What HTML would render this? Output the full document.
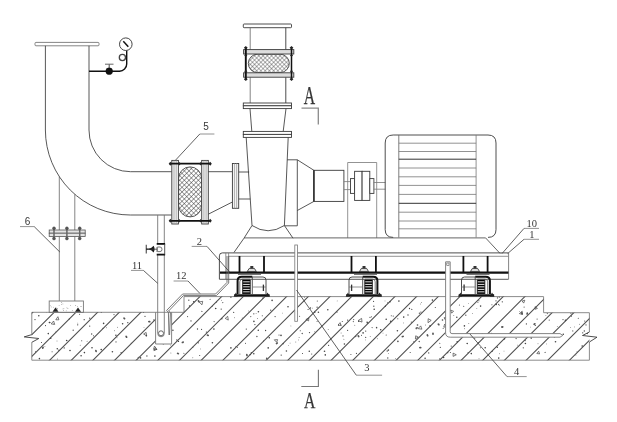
<!DOCTYPE html>
<html><head><meta charset="utf-8"><title>Pump installation diagram</title>
<style>
html,body{margin:0;padding:0;background:#fff;}
body{width:617px;height:422px;overflow:hidden;font-family:"Liberation Sans",sans-serif;}
svg{display:block;filter:grayscale(1);}
</style></head><body>
<svg width="617" height="422" viewBox="0 0 617 422">
<rect width="617" height="422" fill="#fff"/>
<defs>
<pattern id="xh" width="3" height="3" patternUnits="userSpaceOnUse" patternTransform="rotate(45)"><path d="M0 0H3M0 0V3" stroke="#333" stroke-width="0.75" fill="none"/></pattern>
<pattern id="xh2" width="3.3" height="3.3" patternUnits="userSpaceOnUse" patternTransform="rotate(45)"><path d="M0 0H3.3M0 0V3.3" stroke="#333" stroke-width="0.95" fill="none"/></pattern>
<clipPath id="conc"><path d="M31.8 312.3H155.6V344H171.6V312.3H184V296.6H543.6V312.7H589.4V360.2H31.8Z"/></clipPath>
</defs>
<path d="M24.5 336.9 L36.5 336.9" stroke="#3a3a3a" stroke-width="0" fill="none" />
<path d="M31.8 334.6 V312.3 H184 V296.6 H543.6 V312.7 H589.4 V332" stroke="#858585" stroke-width="0.95" fill="none" />
<path d="M589.4 342 V360.2 H31.8 V342.3" stroke="#858585" stroke-width="0.95" fill="none" />
<path d="M31.8 334.6 L24.2 336.9 L38.8 338.5 L31.8 342.3" stroke="#3a3a3a" stroke-width="0.9" fill="none" />
<path d="M589.4 332 L582.5 335.5 L597 337.2 L589.4 342" stroke="#3a3a3a" stroke-width="0.9" fill="none" />
<g clip-path="url(#conc)">
<line x1="-56.75999999999999" y1="380" x2="43.24000000000001" y2="280" stroke="#4c4c4c" stroke-width="1.05" />
<line x1="-35.10000000000002" y1="380" x2="64.89999999999998" y2="280" stroke="#4c4c4c" stroke-width="1.05" />
<line x1="-13.439999999999998" y1="380" x2="86.56" y2="280" stroke="#4c4c4c" stroke-width="1.05" />
<line x1="8.220000000000027" y1="380" x2="108.22000000000003" y2="280" stroke="#4c4c4c" stroke-width="1.05" />
<line x1="29.879999999999995" y1="380" x2="129.88" y2="280" stroke="#4c4c4c" stroke-width="1.05" />
<line x1="51.54000000000002" y1="380" x2="151.54000000000002" y2="280" stroke="#4c4c4c" stroke-width="1.05" />
<line x1="73.19999999999999" y1="380" x2="173.2" y2="280" stroke="#4c4c4c" stroke-width="1.05" />
<line x1="94.86000000000001" y1="380" x2="194.86" y2="280" stroke="#4c4c4c" stroke-width="1.05" />
<line x1="116.51999999999998" y1="380" x2="216.51999999999998" y2="280" stroke="#4c4c4c" stroke-width="1.05" />
<line x1="138.18000000000006" y1="380" x2="238.18000000000006" y2="280" stroke="#4c4c4c" stroke-width="1.05" />
<line x1="159.84000000000003" y1="380" x2="259.84000000000003" y2="280" stroke="#4c4c4c" stroke-width="1.05" />
<line x1="181.5" y1="380" x2="281.5" y2="280" stroke="#4c4c4c" stroke-width="1.05" />
<line x1="203.15999999999997" y1="380" x2="303.15999999999997" y2="280" stroke="#4c4c4c" stroke-width="1.05" />
<line x1="224.81999999999994" y1="380" x2="324.81999999999994" y2="280" stroke="#4c4c4c" stroke-width="1.05" />
<line x1="246.48000000000002" y1="380" x2="346.48" y2="280" stroke="#4c4c4c" stroke-width="1.05" />
<line x1="268.14" y1="380" x2="368.14" y2="280" stroke="#4c4c4c" stroke-width="1.05" />
<line x1="289.79999999999995" y1="380" x2="389.79999999999995" y2="280" stroke="#4c4c4c" stroke-width="1.05" />
<line x1="311.46000000000004" y1="380" x2="411.46000000000004" y2="280" stroke="#4c4c4c" stroke-width="1.05" />
<line x1="333.12" y1="380" x2="433.12" y2="280" stroke="#4c4c4c" stroke-width="1.05" />
<line x1="354.78" y1="380" x2="454.78" y2="280" stroke="#4c4c4c" stroke-width="1.05" />
<line x1="376.44000000000005" y1="380" x2="476.44000000000005" y2="280" stroke="#4c4c4c" stroke-width="1.05" />
<line x1="398.1" y1="380" x2="498.1" y2="280" stroke="#4c4c4c" stroke-width="1.05" />
<line x1="419.76" y1="380" x2="519.76" y2="280" stroke="#4c4c4c" stroke-width="1.05" />
<line x1="441.4200000000001" y1="380" x2="541.4200000000001" y2="280" stroke="#4c4c4c" stroke-width="1.05" />
<line x1="463.0799999999999" y1="380" x2="563.0799999999999" y2="280" stroke="#4c4c4c" stroke-width="1.05" />
<line x1="484.74" y1="380" x2="584.74" y2="280" stroke="#4c4c4c" stroke-width="1.05" />
<line x1="506.4000000000001" y1="380" x2="606.4000000000001" y2="280" stroke="#4c4c4c" stroke-width="1.05" />
<line x1="528.06" y1="380" x2="628.06" y2="280" stroke="#4c4c4c" stroke-width="1.05" />
<line x1="549.72" y1="380" x2="649.72" y2="280" stroke="#4c4c4c" stroke-width="1.05" />
<line x1="571.3800000000001" y1="380" x2="671.3800000000001" y2="280" stroke="#4c4c4c" stroke-width="1.05" />
<line x1="593.04" y1="380" x2="693.04" y2="280" stroke="#4c4c4c" stroke-width="1.05" />
<line x1="614.7" y1="380" x2="714.7" y2="280" stroke="#4c4c4c" stroke-width="1.05" />
<line x1="636.3599999999999" y1="380" x2="736.3599999999999" y2="280" stroke="#4c4c4c" stroke-width="1.05" />
<line x1="658.02" y1="380" x2="758.02" y2="280" stroke="#4c4c4c" stroke-width="1.05" />
<line x1="679.6800000000001" y1="380" x2="779.6800000000001" y2="280" stroke="#4c4c4c" stroke-width="1.05" />
<line x1="701.3399999999999" y1="380" x2="801.3399999999999" y2="280" stroke="#4c4c4c" stroke-width="1.05" />
<line x1="723.0" y1="380" x2="823.0" y2="280" stroke="#4c4c4c" stroke-width="1.05" />
<line x1="744.6600000000001" y1="380" x2="844.6600000000001" y2="280" stroke="#4c4c4c" stroke-width="1.05" />
<line x1="766.3199999999999" y1="380" x2="866.3199999999999" y2="280" stroke="#4c4c4c" stroke-width="1.05" />
<line x1="787.98" y1="380" x2="887.98" y2="280" stroke="#4c4c4c" stroke-width="1.05" />
<line x1="809.6400000000001" y1="380" x2="909.6400000000001" y2="280" stroke="#4c4c4c" stroke-width="1.05" />
<line x1="831.3" y1="380" x2="931.3" y2="280" stroke="#4c4c4c" stroke-width="1.05" />
<circle cx="212.7" cy="306.4" r="0.45" fill="#444"/>
<circle cx="73.2" cy="330.2" r="0.65" fill="#444"/>
<circle cx="356.4" cy="353.4" r="0.55" fill="#444"/>
<circle cx="53.8" cy="323.9" r="0.45" fill="#444"/>
<circle cx="166.6" cy="331.2" r="0.45" fill="#444"/>
<circle cx="491.9" cy="304.7" r="0.55" fill="#444"/>
<circle cx="383.0" cy="333.1" r="0.45" fill="#444"/>
<circle cx="353.3" cy="321.6" r="0.55" fill="#444"/>
<circle cx="58.9" cy="350.2" r="0.65" fill="#444"/>
<circle cx="265.6" cy="330.5" r="0.65" fill="#444"/>
<circle cx="343.9" cy="339.3" r="0.45" fill="#444"/>
<circle cx="355.8" cy="336.6" r="0.65" fill="#444"/>
<circle cx="87.1" cy="341.2" r="0.45" fill="#444"/>
<circle cx="376.6" cy="327.8" r="0.8" fill="#444"/>
<circle cx="464.4" cy="325.9" r="0.8" fill="#444"/>
<circle cx="233.7" cy="312.4" r="0.55" fill="#444"/>
<circle cx="420.9" cy="312.1" r="0.65" fill="#444"/>
<circle cx="324.5" cy="351.3" r="0.8" fill="#444"/>
<circle cx="192.8" cy="357.8" r="0.45" fill="#444"/>
<circle cx="317.1" cy="307.2" r="0.65" fill="#444"/>
<circle cx="117.4" cy="327.3" r="0.45" fill="#444"/>
<circle cx="566.9" cy="301.8" r="0.65" fill="#444"/>
<circle cx="221.8" cy="318.7" r="0.8" fill="#444"/>
<circle cx="354.8" cy="325.3" r="0.45" fill="#444"/>
<circle cx="557.3" cy="326.4" r="0.45" fill="#444"/>
<circle cx="66.7" cy="340.5" r="0.8" fill="#444"/>
<circle cx="191.0" cy="320.9" r="0.65" fill="#444"/>
<circle cx="45.5" cy="325.6" r="0.55" fill="#444"/>
<circle cx="372.1" cy="327.6" r="0.55" fill="#444"/>
<circle cx="459.4" cy="305.0" r="0.55" fill="#444"/>
<circle cx="253.8" cy="353.8" r="0.8" fill="#444"/>
<circle cx="77.7" cy="324.8" r="0.65" fill="#444"/>
<circle cx="523.3" cy="347.8" r="0.65" fill="#444"/>
<circle cx="425.1" cy="358.2" r="0.8" fill="#444"/>
<circle cx="564.5" cy="306.4" r="0.55" fill="#444"/>
<circle cx="117.0" cy="337.8" r="0.45" fill="#444"/>
<circle cx="302.2" cy="333.5" r="0.65" fill="#444"/>
<circle cx="189.5" cy="306.0" r="0.65" fill="#444"/>
<circle cx="371.4" cy="316.8" r="0.55" fill="#444"/>
<circle cx="416.2" cy="329.0" r="0.45" fill="#444"/>
<circle cx="286.4" cy="351.0" r="0.8" fill="#444"/>
<circle cx="253.9" cy="321.4" r="0.8" fill="#444"/>
<circle cx="385.0" cy="300.9" r="0.45" fill="#444"/>
<circle cx="579.5" cy="324.3" r="0.45" fill="#444"/>
<circle cx="221.7" cy="300.3" r="0.45" fill="#444"/>
<circle cx="347.6" cy="330.3" r="0.65" fill="#444"/>
<circle cx="373.6" cy="301.4" r="0.55" fill="#444"/>
<circle cx="373.8" cy="306.2" r="0.65" fill="#444"/>
<circle cx="563.3" cy="334.3" r="0.8" fill="#444"/>
<circle cx="101.2" cy="349.6" r="0.8" fill="#444"/>
<circle cx="299.6" cy="316.3" r="0.55" fill="#444"/>
<circle cx="89.7" cy="318.2" r="0.65" fill="#444"/>
<circle cx="298.6" cy="339.9" r="0.45" fill="#444"/>
<circle cx="146.9" cy="356.0" r="0.65" fill="#444"/>
<circle cx="114.4" cy="330.7" r="0.45" fill="#444"/>
<circle cx="453.8" cy="315.5" r="0.45" fill="#444"/>
<circle cx="419.4" cy="313.2" r="0.65" fill="#444"/>
<circle cx="537.1" cy="319.1" r="0.55" fill="#444"/>
<circle cx="328.6" cy="345.3" r="0.65" fill="#444"/>
<circle cx="386.2" cy="335.0" r="0.55" fill="#444"/>
<circle cx="480.4" cy="347.7" r="0.55" fill="#444"/>
<circle cx="144.0" cy="327.6" r="0.45" fill="#444"/>
<circle cx="582.2" cy="346.0" r="0.8" fill="#444"/>
<circle cx="176.8" cy="339.9" r="0.65" fill="#444"/>
<circle cx="281.2" cy="355.1" r="0.65" fill="#444"/>
<circle cx="563.0" cy="319.6" r="0.55" fill="#444"/>
<circle cx="89.7" cy="326.1" r="0.65" fill="#444"/>
<circle cx="146.4" cy="335.7" r="0.45" fill="#444"/>
<circle cx="299.1" cy="337.5" r="0.45" fill="#444"/>
<circle cx="496.2" cy="304.4" r="0.8" fill="#444"/>
<circle cx="467.2" cy="343.5" r="0.8" fill="#444"/>
<circle cx="526.4" cy="323.9" r="0.65" fill="#444"/>
<circle cx="81.1" cy="355.7" r="0.8" fill="#444"/>
<circle cx="290.1" cy="343.1" r="0.45" fill="#444"/>
<circle cx="435.3" cy="307.5" r="0.55" fill="#444"/>
<circle cx="48.3" cy="333.6" r="0.8" fill="#444"/>
<circle cx="480.6" cy="306.1" r="0.8" fill="#444"/>
<circle cx="397.8" cy="318.7" r="0.55" fill="#444"/>
<circle cx="44.9" cy="346.6" r="0.45" fill="#444"/>
<circle cx="325.3" cy="354.9" r="0.8" fill="#444"/>
<circle cx="580.5" cy="309.1" r="0.55" fill="#444"/>
<circle cx="48.5" cy="310.2" r="0.55" fill="#444"/>
<circle cx="456.8" cy="317.2" r="0.8" fill="#444"/>
<circle cx="496.0" cy="300.8" r="0.65" fill="#444"/>
<circle cx="531.2" cy="338.1" r="0.8" fill="#444"/>
<circle cx="492.1" cy="351.4" r="0.55" fill="#444"/>
<circle cx="328.2" cy="329.5" r="0.45" fill="#444"/>
<circle cx="517.4" cy="345.1" r="0.45" fill="#444"/>
<circle cx="463.7" cy="306.3" r="0.55" fill="#444"/>
<circle cx="295.8" cy="342.0" r="0.45" fill="#444"/>
<circle cx="213.9" cy="329.1" r="0.8" fill="#444"/>
<circle cx="468.3" cy="303.6" r="0.45" fill="#444"/>
<circle cx="170.9" cy="314.2" r="0.45" fill="#444"/>
<circle cx="314.8" cy="331.8" r="0.45" fill="#444"/>
<circle cx="279.0" cy="335.0" r="0.55" fill="#444"/>
<circle cx="417.5" cy="325.0" r="0.8" fill="#444"/>
<circle cx="314.8" cy="312.4" r="0.65" fill="#444"/>
<circle cx="545.1" cy="352.4" r="0.55" fill="#444"/>
<circle cx="499.2" cy="305.5" r="0.45" fill="#444"/>
<circle cx="250.8" cy="316.6" r="0.55" fill="#444"/>
<circle cx="270.7" cy="310.2" r="0.65" fill="#444"/>
<circle cx="468.1" cy="352.6" r="0.55" fill="#444"/>
<circle cx="554.4" cy="336.9" r="0.65" fill="#444"/>
<circle cx="112.4" cy="351.7" r="0.8" fill="#444"/>
<circle cx="154.9" cy="356.1" r="0.8" fill="#444"/>
<circle cx="524.1" cy="307.1" r="0.55" fill="#444"/>
<circle cx="122.6" cy="323.8" r="0.8" fill="#444"/>
<circle cx="221.2" cy="309.1" r="0.65" fill="#444"/>
<circle cx="84.2" cy="319.7" r="0.65" fill="#444"/>
<circle cx="340.5" cy="324.3" r="0.45" fill="#444"/>
<circle cx="246.3" cy="329.1" r="0.65" fill="#444"/>
<circle cx="317.3" cy="301.0" r="0.55" fill="#444"/>
<circle cx="572.3" cy="303.5" r="0.65" fill="#444"/>
<circle cx="183.9" cy="353.2" r="0.55" fill="#444"/>
<circle cx="183.1" cy="305.0" r="0.8" fill="#444"/>
<circle cx="504.5" cy="338.9" r="0.65" fill="#444"/>
<circle cx="258.3" cy="330.3" r="0.8" fill="#444"/>
<circle cx="421.7" cy="302.5" r="0.45" fill="#444"/>
<circle cx="476.8" cy="308.4" r="0.45" fill="#444"/>
<circle cx="182.3" cy="298.0" r="0.45" fill="#444"/>
<circle cx="477.9" cy="302.2" r="0.55" fill="#444"/>
<circle cx="70.0" cy="350.5" r="0.8" fill="#444"/>
<circle cx="39.4" cy="358.6" r="0.8" fill="#444"/>
<circle cx="547.3" cy="313.6" r="0.55" fill="#444"/>
<circle cx="57.0" cy="341.0" r="0.45" fill="#444"/>
<circle cx="570.9" cy="313.2" r="0.55" fill="#444"/>
<circle cx="145.0" cy="316.3" r="0.65" fill="#444"/>
<circle cx="327.8" cy="309.8" r="0.8" fill="#444"/>
<circle cx="310.5" cy="308.0" r="0.65" fill="#444"/>
<circle cx="479.0" cy="358.7" r="0.45" fill="#444"/>
<circle cx="41.5" cy="342.5" r="0.55" fill="#444"/>
<circle cx="318.4" cy="312.2" r="0.8" fill="#444"/>
<circle cx="92.0" cy="347.8" r="0.8" fill="#444"/>
<circle cx="397.4" cy="330.8" r="0.8" fill="#444"/>
<circle cx="571.5" cy="316.1" r="0.55" fill="#444"/>
<circle cx="578.3" cy="318.2" r="0.55" fill="#444"/>
<circle cx="257.6" cy="318.5" r="0.45" fill="#444"/>
<circle cx="497.5" cy="297.9" r="0.65" fill="#444"/>
<circle cx="272.1" cy="300.4" r="0.8" fill="#444"/>
<circle cx="516.1" cy="338.6" r="0.65" fill="#444"/>
<circle cx="365.3" cy="339.9" r="0.45" fill="#444"/>
<circle cx="288.0" cy="306.8" r="0.8" fill="#444"/>
<circle cx="35.0" cy="319.6" r="0.65" fill="#444"/>
<circle cx="572.8" cy="330.9" r="0.55" fill="#444"/>
<circle cx="52.1" cy="351.7" r="0.55" fill="#444"/>
<circle cx="230.9" cy="297.1" r="0.8" fill="#444"/>
<circle cx="79.6" cy="314.3" r="0.55" fill="#444"/>
<circle cx="170.7" cy="345.1" r="0.45" fill="#444"/>
<circle cx="179.6" cy="302.6" r="0.8" fill="#444"/>
<circle cx="358.7" cy="321.4" r="0.65" fill="#444"/>
<circle cx="201.9" cy="311.4" r="0.55" fill="#444"/>
<circle cx="397.9" cy="341.4" r="0.8" fill="#444"/>
<circle cx="457.2" cy="341.7" r="0.8" fill="#444"/>
<circle cx="116.0" cy="341.9" r="0.55" fill="#444"/>
<circle cx="57.3" cy="348.8" r="0.8" fill="#444"/>
<circle cx="440.3" cy="347.4" r="0.55" fill="#444"/>
<circle cx="538.0" cy="343.7" r="0.45" fill="#444"/>
<circle cx="491.7" cy="333.2" r="0.55" fill="#444"/>
<circle cx="80.2" cy="299.6" r="0.65" fill="#444"/>
<circle cx="565.5" cy="320.4" r="0.8" fill="#444"/>
<circle cx="343.0" cy="335.9" r="0.55" fill="#444"/>
<circle cx="304.6" cy="297.2" r="0.45" fill="#444"/>
<circle cx="448.3" cy="328.2" r="0.45" fill="#444"/>
<circle cx="398.9" cy="301.1" r="0.8" fill="#444"/>
<circle cx="173.0" cy="301.6" r="0.65" fill="#444"/>
<circle cx="163.3" cy="343.9" r="0.55" fill="#444"/>
<circle cx="443.6" cy="357.5" r="0.8" fill="#444"/>
<circle cx="502.3" cy="301.8" r="0.65" fill="#444"/>
<circle cx="458.7" cy="335.3" r="0.55" fill="#444"/>
<circle cx="76.0" cy="306.1" r="0.65" fill="#444"/>
<circle cx="394.6" cy="340.0" r="0.55" fill="#444"/>
<circle cx="39.9" cy="300.8" r="0.65" fill="#444"/>
<circle cx="572.7" cy="303.2" r="0.55" fill="#444"/>
<circle cx="408.0" cy="315.0" r="0.65" fill="#444"/>
<circle cx="290.9" cy="325.9" r="0.45" fill="#444"/>
<circle cx="584.3" cy="331.0" r="0.65" fill="#444"/>
<circle cx="575.9" cy="355.0" r="0.45" fill="#444"/>
<circle cx="193.7" cy="301.7" r="0.8" fill="#444"/>
<circle cx="584.7" cy="321.0" r="0.55" fill="#444"/>
<circle cx="74.4" cy="302.6" r="0.65" fill="#444"/>
<circle cx="561.8" cy="305.2" r="0.65" fill="#444"/>
<circle cx="525.2" cy="340.6" r="0.55" fill="#444"/>
<circle cx="309.3" cy="351.3" r="0.8" fill="#444"/>
<circle cx="46.8" cy="297.2" r="0.8" fill="#444"/>
<circle cx="411.3" cy="322.1" r="0.55" fill="#444"/>
<circle cx="264.0" cy="320.3" r="0.45" fill="#444"/>
<circle cx="499.3" cy="297.1" r="0.65" fill="#444"/>
<circle cx="498.7" cy="304.4" r="0.55" fill="#444"/>
<circle cx="428.7" cy="352.9" r="0.65" fill="#444"/>
<circle cx="173.5" cy="301.0" r="0.8" fill="#444"/>
<circle cx="587.3" cy="333.5" r="0.65" fill="#444"/>
<circle cx="546.6" cy="343.9" r="0.45" fill="#444"/>
<circle cx="188.8" cy="300.2" r="0.65" fill="#444"/>
<circle cx="385.4" cy="306.2" r="0.65" fill="#444"/>
<circle cx="275.1" cy="316.6" r="0.65" fill="#444"/>
<circle cx="468.8" cy="323.5" r="0.45" fill="#444"/>
<circle cx="483.6" cy="336.1" r="0.55" fill="#444"/>
<circle cx="432.4" cy="300.1" r="0.8" fill="#444"/>
<circle cx="283.2" cy="343.7" r="0.65" fill="#444"/>
<circle cx="302.5" cy="353.5" r="0.55" fill="#444"/>
<circle cx="127.8" cy="322.7" r="0.65" fill="#444"/>
<circle cx="198.3" cy="342.8" r="0.65" fill="#444"/>
<circle cx="258.4" cy="311.8" r="0.8" fill="#444"/>
<circle cx="342.3" cy="321.5" r="0.55" fill="#444"/>
<circle cx="390.0" cy="301.7" r="0.8" fill="#444"/>
<circle cx="338.5" cy="325.1" r="0.65" fill="#444"/>
<circle cx="586.0" cy="324.9" r="0.55" fill="#444"/>
<circle cx="337.0" cy="312.1" r="0.55" fill="#444"/>
<circle cx="222.8" cy="302.6" r="0.55" fill="#444"/>
<circle cx="237.4" cy="347.2" r="0.55" fill="#444"/>
<circle cx="525.4" cy="343.5" r="0.8" fill="#444"/>
<circle cx="245.5" cy="343.2" r="0.55" fill="#444"/>
<circle cx="242.2" cy="318.0" r="0.45" fill="#444"/>
<circle cx="309.5" cy="332.6" r="0.65" fill="#444"/>
<circle cx="102.9" cy="328.2" r="0.55" fill="#444"/>
<circle cx="84.4" cy="352.6" r="0.8" fill="#444"/>
<circle cx="254.9" cy="324.6" r="0.65" fill="#444"/>
<circle cx="504.0" cy="351.1" r="0.45" fill="#444"/>
<circle cx="103.6" cy="323.4" r="0.8" fill="#444"/>
<circle cx="570.4" cy="327.4" r="0.45" fill="#444"/>
<circle cx="250.3" cy="354.5" r="0.8" fill="#444"/>
<circle cx="572.6" cy="312.4" r="0.45" fill="#444"/>
<circle cx="157.2" cy="306.4" r="0.45" fill="#444"/>
<circle cx="555.5" cy="341.7" r="0.8" fill="#444"/>
<circle cx="80.2" cy="345.2" r="0.45" fill="#444"/>
<circle cx="467.2" cy="311.4" r="0.45" fill="#444"/>
<circle cx="391.3" cy="315.8" r="0.55" fill="#444"/>
<circle cx="380.7" cy="329.8" r="0.8" fill="#444"/>
<circle cx="420.7" cy="304.0" r="0.45" fill="#444"/>
<circle cx="199.7" cy="355.5" r="0.55" fill="#444"/>
<circle cx="248.4" cy="310.9" r="0.45" fill="#444"/>
<circle cx="38.8" cy="315.7" r="0.8" fill="#444"/>
<circle cx="187.6" cy="316.6" r="0.55" fill="#444"/>
<circle cx="296.8" cy="311.6" r="0.55" fill="#444"/>
<circle cx="49.3" cy="322.5" r="0.65" fill="#444"/>
<circle cx="63.7" cy="309.0" r="0.8" fill="#444"/>
<circle cx="78.0" cy="311.1" r="0.8" fill="#444"/>
<circle cx="546.5" cy="311.1" r="0.45" fill="#444"/>
<circle cx="419.2" cy="341.5" r="0.65" fill="#444"/>
<circle cx="411.8" cy="309.3" r="0.65" fill="#444"/>
<circle cx="443.2" cy="328.3" r="0.55" fill="#444"/>
<circle cx="308.1" cy="309.4" r="0.55" fill="#444"/>
<circle cx="161.1" cy="310.7" r="0.65" fill="#444"/>
<circle cx="93.5" cy="335.7" r="0.55" fill="#444"/>
<circle cx="530.5" cy="327.1" r="0.45" fill="#444"/>
<circle cx="559.6" cy="306.1" r="0.8" fill="#444"/>
<circle cx="63.2" cy="298.5" r="0.55" fill="#444"/>
<circle cx="263.5" cy="341.0" r="0.55" fill="#444"/>
<circle cx="251.3" cy="352.7" r="0.65" fill="#444"/>
<circle cx="439.7" cy="358.8" r="0.55" fill="#444"/>
<circle cx="215.7" cy="308.5" r="0.8" fill="#444"/>
<circle cx="50.7" cy="338.2" r="0.8" fill="#444"/>
<circle cx="498.7" cy="358.1" r="0.8" fill="#444"/>
<circle cx="126.9" cy="297.2" r="0.65" fill="#444"/>
<circle cx="77.8" cy="323.1" r="0.45" fill="#444"/>
<circle cx="344.4" cy="344.0" r="0.8" fill="#444"/>
<circle cx="230.9" cy="347.9" r="0.8" fill="#444"/>
<circle cx="81.7" cy="340.7" r="0.55" fill="#444"/>
<circle cx="239.9" cy="354.0" r="0.55" fill="#444"/>
<circle cx="212.4" cy="342.7" r="0.8" fill="#444"/>
<circle cx="49.8" cy="322.5" r="0.8" fill="#444"/>
<circle cx="55.6" cy="299.2" r="0.45" fill="#444"/>
<circle cx="478.9" cy="300.8" r="0.55" fill="#444"/>
<circle cx="447.7" cy="352.7" r="0.65" fill="#444"/>
<circle cx="234.5" cy="317.8" r="0.45" fill="#444"/>
<circle cx="178.5" cy="341.4" r="0.65" fill="#444"/>
<circle cx="545.9" cy="315.4" r="0.45" fill="#444"/>
<circle cx="46.5" cy="311.5" r="0.8" fill="#444"/>
<circle cx="430.1" cy="325.9" r="0.8" fill="#444"/>
<circle cx="471.3" cy="353.6" r="0.8" fill="#444"/>
<circle cx="106.7" cy="327.8" r="0.45" fill="#444"/>
<circle cx="478.4" cy="342.8" r="0.55" fill="#444"/>
<circle cx="370.0" cy="317.3" r="0.65" fill="#444"/>
<circle cx="288.7" cy="345.6" r="0.45" fill="#444"/>
<circle cx="317.1" cy="321.3" r="0.55" fill="#444"/>
<circle cx="170.3" cy="301.0" r="0.45" fill="#444"/>
<circle cx="300.3" cy="330.8" r="0.55" fill="#444"/>
<circle cx="577.0" cy="351.8" r="0.45" fill="#444"/>
<circle cx="180.0" cy="302.2" r="0.45" fill="#444"/>
<circle cx="266.7" cy="358.3" r="0.8" fill="#444"/>
<circle cx="129.1" cy="305.2" r="0.8" fill="#444"/>
<circle cx="377.3" cy="338.8" r="0.45" fill="#444"/>
<circle cx="465.8" cy="315.2" r="0.65" fill="#444"/>
<circle cx="347.6" cy="320.1" r="0.65" fill="#444"/>
<circle cx="143.6" cy="312.3" r="0.55" fill="#444"/>
<circle cx="163.7" cy="314.4" r="0.55" fill="#444"/>
<circle cx="214.1" cy="321.6" r="0.55" fill="#444"/>
<circle cx="314.6" cy="311.3" r="0.45" fill="#444"/>
<circle cx="395.6" cy="358.4" r="0.45" fill="#444"/>
<circle cx="35.5" cy="351.7" r="0.55" fill="#444"/>
<circle cx="499.5" cy="353.7" r="0.45" fill="#444"/>
<circle cx="519.7" cy="311.4" r="0.45" fill="#444"/>
<circle cx="138.2" cy="357.3" r="0.55" fill="#444"/>
<circle cx="549.2" cy="320.1" r="0.55" fill="#444"/>
<circle cx="282.3" cy="313.1" r="0.45" fill="#444"/>
<circle cx="91.7" cy="334.0" r="0.65" fill="#444"/>
<circle cx="153.8" cy="319.9" r="0.55" fill="#444"/>
<circle cx="57.5" cy="359.0" r="0.45" fill="#444"/>
<circle cx="365.7" cy="337.4" r="0.55" fill="#444"/>
<circle cx="485.2" cy="347.8" r="0.8" fill="#444"/>
<circle cx="409.5" cy="308.5" r="0.65" fill="#444"/>
<circle cx="76.3" cy="299.0" r="0.8" fill="#444"/>
<circle cx="337.2" cy="300.9" r="0.45" fill="#444"/>
<circle cx="474.7" cy="338.2" r="0.55" fill="#444"/>
<circle cx="387.7" cy="302.7" r="0.55" fill="#444"/>
<circle cx="253.8" cy="313.8" r="0.65" fill="#444"/>
<circle cx="403.6" cy="322.9" r="0.45" fill="#444"/>
<circle cx="206.4" cy="332.1" r="0.65" fill="#444"/>
<circle cx="262.8" cy="298.1" r="0.65" fill="#444"/>
<circle cx="390.7" cy="321.2" r="0.8" fill="#444"/>
<circle cx="146.0" cy="297.4" r="0.55" fill="#444"/>
<circle cx="268.2" cy="347.9" r="0.8" fill="#444"/>
<circle cx="353.7" cy="319.6" r="0.55" fill="#444"/>
<circle cx="105.1" cy="300.2" r="0.55" fill="#444"/>
<circle cx="388.6" cy="353.4" r="0.45" fill="#444"/>
<circle cx="350.9" cy="354.5" r="0.55" fill="#444"/>
<circle cx="114.0" cy="314.6" r="0.55" fill="#444"/>
<circle cx="546.7" cy="303.7" r="0.8" fill="#444"/>
<circle cx="451.2" cy="346.1" r="0.55" fill="#444"/>
<circle cx="200.4" cy="348.9" r="0.45" fill="#444"/>
<circle cx="574.4" cy="326.9" r="0.45" fill="#444"/>
<circle cx="370.2" cy="336.5" r="0.45" fill="#444"/>
<circle cx="534.8" cy="335.5" r="0.55" fill="#444"/>
<circle cx="388.4" cy="350.1" r="0.8" fill="#444"/>
<circle cx="374.2" cy="309.2" r="0.8" fill="#444"/>
<circle cx="134.5" cy="310.5" r="0.8" fill="#444"/>
<circle cx="553.9" cy="306.7" r="0.65" fill="#444"/>
<circle cx="101.3" cy="312.3" r="0.55" fill="#444"/>
<circle cx="55.8" cy="331.9" r="0.45" fill="#444"/>
<circle cx="403.7" cy="317.1" r="0.8" fill="#444"/>
<circle cx="365.7" cy="331.1" r="0.65" fill="#444"/>
<circle cx="393.2" cy="316.1" r="0.55" fill="#444"/>
<circle cx="269.3" cy="337.8" r="0.8" fill="#444"/>
<circle cx="312.5" cy="308.1" r="0.45" fill="#444"/>
<circle cx="376.5" cy="327.3" r="0.55" fill="#444"/>
<circle cx="281.0" cy="335.4" r="0.8" fill="#444"/>
<circle cx="497.3" cy="347.3" r="0.8" fill="#444"/>
<circle cx="92.4" cy="305.0" r="0.8" fill="#444"/>
<circle cx="235.8" cy="346.7" r="0.45" fill="#444"/>
<circle cx="55.6" cy="305.1" r="0.65" fill="#444"/>
<circle cx="464.6" cy="328.7" r="0.45" fill="#444"/>
<circle cx="450.4" cy="352.5" r="0.55" fill="#444"/>
<circle cx="47.4" cy="301.1" r="0.45" fill="#444"/>
<circle cx="140.5" cy="357.9" r="0.8" fill="#444"/>
<circle cx="192.8" cy="347.3" r="0.55" fill="#444"/>
<circle cx="413.8" cy="341.7" r="0.55" fill="#444"/>
<circle cx="69.4" cy="318.8" r="0.65" fill="#444"/>
<circle cx="121.1" cy="352.6" r="0.65" fill="#444"/>
<circle cx="535.3" cy="325.3" r="0.65" fill="#444"/>
<circle cx="311.7" cy="354.0" r="0.55" fill="#444"/>
<circle cx="361.5" cy="335.2" r="0.55" fill="#444"/>
<circle cx="210.1" cy="299.3" r="0.55" fill="#444"/>
<circle cx="256.9" cy="336.5" r="0.65" fill="#444"/>
<circle cx="410.2" cy="352.5" r="0.55" fill="#444"/>
<circle cx="472.6" cy="313.4" r="0.45" fill="#444"/>
<circle cx="386.2" cy="319.3" r="0.8" fill="#444"/>
<circle cx="341.1" cy="333.0" r="0.45" fill="#444"/>
<circle cx="172.9" cy="330.2" r="0.8" fill="#444"/>
<circle cx="442.5" cy="320.0" r="0.8" fill="#444"/>
<circle cx="582.7" cy="332.8" r="0.65" fill="#444"/>
<circle cx="216.6" cy="302.0" r="0.55" fill="#444"/>
<circle cx="131.1" cy="343.1" r="0.45" fill="#444"/>
<circle cx="197.5" cy="329.0" r="0.65" fill="#444"/>
<circle cx="387.8" cy="358.0" r="0.65" fill="#444"/>
<circle cx="439.8" cy="343.3" r="0.55" fill="#444"/>
<circle cx="115.9" cy="335.2" r="0.8" fill="#444"/>
<circle cx="264.8" cy="319.6" r="0.45" fill="#444"/>
<circle cx="106.3" cy="311.1" r="0.45" fill="#444"/>
<circle cx="45.4" cy="297.2" r="0.65" fill="#444"/>
<circle cx="201.6" cy="329.4" r="0.55" fill="#444"/>
<circle cx="262.3" cy="315.7" r="0.55" fill="#444"/>
<circle cx="146.3" cy="335.7" r="0.8" fill="#444"/>
<circle cx="121.0" cy="297.9" r="0.55" fill="#444"/>
<circle cx="425.6" cy="325.0" r="0.45" fill="#444"/>
<circle cx="387.2" cy="351.0" r="0.65" fill="#444"/>
<circle cx="256.1" cy="313.4" r="0.45" fill="#444"/>
<circle cx="64.2" cy="347.9" r="0.65" fill="#444"/>
<circle cx="363.1" cy="332.9" r="0.8" fill="#444"/>
<circle cx="170.9" cy="353.0" r="0.45" fill="#444"/>
<circle cx="67.1" cy="298.6" r="0.55" fill="#444"/>
<polygon points="166.8,301.8 167.2,304.2 165.3,303.8" fill="none" stroke="#444" stroke-width="0.7"/>
<polygon points="143.6,334.0 146.1,332.4 146.7,335.8" fill="none" stroke="#444" stroke-width="0.7"/>
<polygon points="202.7,301.3 202.0,304.8 199.1,302.0" fill="none" stroke="#444" stroke-width="0.7"/>
<polygon points="444.6,324.2 446.9,326.9 443.8,327.1" fill="none" stroke="#444" stroke-width="0.7"/>
<polygon points="57.9,316.7 58.9,319.8 55.8,319.8" fill="none" stroke="#444" stroke-width="0.7"/>
<polygon points="340.1,322.6 341.3,325.7 338.1,325.0" fill="none" stroke="#444" stroke-width="0.7"/>
<polygon points="156.8,349.4 153.9,350.7 155.0,347.7" fill="none" stroke="#444" stroke-width="0.7"/>
<polygon points="446.6,317.1 445.5,320.0 444.0,317.8" fill="none" stroke="#444" stroke-width="0.7"/>
<polygon points="418.2,337.0 415.4,339.0 415.7,335.8" fill="none" stroke="#444" stroke-width="0.7"/>
<polygon points="274.3,339.8 277.6,339.6 276.7,342.3" fill="none" stroke="#444" stroke-width="0.7"/>
<polygon points="537.4,308.4 535.2,309.3 535.1,306.6" fill="none" stroke="#444" stroke-width="0.7"/>
<polygon points="51.4,300.5 53.7,302.7 51.1,303.9" fill="none" stroke="#444" stroke-width="0.7"/>
<polygon points="361.6,318.4 362.0,322.1 358.1,320.6" fill="none" stroke="#444" stroke-width="0.7"/>
<polygon points="539.6,353.9 536.8,353.5 538.7,351.2" fill="none" stroke="#444" stroke-width="0.7"/>
<polygon points="482.4,333.7 483.4,337.2 479.9,335.6" fill="none" stroke="#444" stroke-width="0.7"/>
<polygon points="451.7,313.1 450.5,310.0 453.6,311.3" fill="none" stroke="#444" stroke-width="0.7"/>
<polygon points="428.0,322.7 428.2,318.7 431.2,320.4" fill="none" stroke="#444" stroke-width="0.7"/>
<polygon points="51.2,323.9 53.6,321.0 54.7,324.4" fill="none" stroke="#444" stroke-width="0.7"/>
<polygon points="157.0,349.5 153.5,349.3 154.5,346.1" fill="none" stroke="#444" stroke-width="0.7"/>
<polygon points="456.3,354.8 453.1,356.4 453.1,353.1" fill="none" stroke="#444" stroke-width="0.7"/>
<polygon points="308.8,318.0 308.6,320.9 305.9,319.5" fill="none" stroke="#444" stroke-width="0.7"/>
<polygon points="421.9,329.2 418.0,328.6 420.7,325.9" fill="none" stroke="#444" stroke-width="0.7"/>
<polygon points="467.0,336.6 467.9,333.5 469.8,335.4" fill="none" stroke="#444" stroke-width="0.7"/>
<polygon points="523.7,303.1 522.1,301.0 524.8,300.2" fill="none" stroke="#444" stroke-width="0.7"/>
<polygon points="519.4,313.6 522.2,311.2 522.5,314.5" fill="none" stroke="#444" stroke-width="0.7"/>
<polygon points="228.3,320.1 225.2,318.4 227.7,316.3" fill="none" stroke="#444" stroke-width="0.7"/>
<ellipse cx="276.9" cy="343.3" rx="1.3" ry="0.9" fill="#555" transform="rotate(148 276.9 343.3)"/>
<ellipse cx="162.8" cy="318.7" rx="1.3" ry="0.9" fill="#555" transform="rotate(164 162.8 318.7)"/>
<ellipse cx="521.9" cy="313.3" rx="1.3" ry="0.9" fill="#555" transform="rotate(49 521.9 313.3)"/>
<ellipse cx="182.8" cy="342.3" rx="1.3" ry="0.9" fill="#555" transform="rotate(158 182.8 342.3)"/>
<ellipse cx="120.9" cy="308.7" rx="1.3" ry="0.9" fill="#555" transform="rotate(63 120.9 308.7)"/>
<ellipse cx="433.0" cy="333.8" rx="1.3" ry="0.9" fill="#555" transform="rotate(89 433.0 333.8)"/>
<ellipse cx="124.3" cy="318.4" rx="1.3" ry="0.9" fill="#555" transform="rotate(48 124.3 318.4)"/>
<ellipse cx="178.0" cy="353.5" rx="1.3" ry="0.9" fill="#555" transform="rotate(26 178.0 353.5)"/>
<ellipse cx="126.4" cy="336.8" rx="1.3" ry="0.9" fill="#555" transform="rotate(50 126.4 336.8)"/>
<ellipse cx="246.9" cy="355.1" rx="1.3" ry="0.9" fill="#555" transform="rotate(77 246.9 355.1)"/>
<ellipse cx="438.6" cy="324.4" rx="1.3" ry="0.9" fill="#555" transform="rotate(50 438.6 324.4)"/>
<ellipse cx="96.0" cy="351.0" rx="1.3" ry="0.9" fill="#555" transform="rotate(71 96.0 351.0)"/>
<ellipse cx="149.3" cy="321.7" rx="1.3" ry="0.9" fill="#555" transform="rotate(8 149.3 321.7)"/>
<ellipse cx="42.9" cy="347.8" rx="1.3" ry="0.9" fill="#555" transform="rotate(111 42.9 347.8)"/>
<ellipse cx="416.7" cy="328.0" rx="1.3" ry="0.9" fill="#555" transform="rotate(161 416.7 328.0)"/>
<ellipse cx="198.6" cy="301.2" rx="1.3" ry="0.9" fill="#555" transform="rotate(65 198.6 301.2)"/>
<ellipse cx="367.4" cy="322.7" rx="1.3" ry="0.9" fill="#555" transform="rotate(62 367.4 322.7)"/>
<ellipse cx="534.5" cy="324.1" rx="1.3" ry="0.9" fill="#555" transform="rotate(146 534.5 324.1)"/>
<ellipse cx="358.5" cy="336.2" rx="1.3" ry="0.9" fill="#555" transform="rotate(58 358.5 336.2)"/>
<ellipse cx="402.7" cy="336.5" rx="1.3" ry="0.9" fill="#555" transform="rotate(164 402.7 336.5)"/>
<ellipse cx="420.3" cy="347.7" rx="1.3" ry="0.9" fill="#555" transform="rotate(173 420.3 347.7)"/>
<ellipse cx="135.6" cy="307.0" rx="1.3" ry="0.9" fill="#555" transform="rotate(110 135.6 307.0)"/>
<ellipse cx="207.8" cy="335.2" rx="1.3" ry="0.9" fill="#555" transform="rotate(25 207.8 335.2)"/>
<ellipse cx="527.2" cy="313.6" rx="1.3" ry="0.9" fill="#555" transform="rotate(102 527.2 313.6)"/>
<ellipse cx="427.5" cy="335.3" rx="1.3" ry="0.9" fill="#555" transform="rotate(64 427.5 335.3)"/>
<ellipse cx="502.3" cy="327.0" rx="1.3" ry="0.9" fill="#555" transform="rotate(5 502.3 327.0)"/>
</g>
<path d="M155.6 312.3 V344 H171.6 V312.3" stroke="#777" stroke-width="0.9" fill="none" />
<rect x="49.2" y="301" width="34.2" height="11.4" rx="0" stroke="#777" stroke-width="0.9" fill="none"/>
<circle cx="70.5" cy="305.7" r="0.4" fill="#666"/>
<circle cx="72.3" cy="310.4" r="0.4" fill="#666"/>
<circle cx="56.0" cy="307.9" r="0.4" fill="#666"/>
<circle cx="75.7" cy="305.5" r="0.4" fill="#666"/>
<circle cx="66.2" cy="310.8" r="0.4" fill="#666"/>
<circle cx="51.3" cy="306.9" r="0.4" fill="#666"/>
<circle cx="55.3" cy="309.0" r="0.4" fill="#666"/>
<circle cx="81.0" cy="306.7" r="0.4" fill="#666"/>
<circle cx="53.3" cy="307.2" r="0.4" fill="#666"/>
<circle cx="67.9" cy="308.5" r="0.4" fill="#666"/>
<circle cx="66.9" cy="307.8" r="0.4" fill="#666"/>
<circle cx="77.4" cy="306.7" r="0.4" fill="#666"/>
<circle cx="63.5" cy="310.5" r="0.4" fill="#666"/>
<circle cx="56.9" cy="308.2" r="0.4" fill="#666"/>
<circle cx="63.0" cy="308.9" r="0.4" fill="#666"/>
<circle cx="54.0" cy="310.9" r="0.4" fill="#666"/>
<circle cx="61.7" cy="302.5" r="0.4" fill="#666"/>
<circle cx="59.1" cy="305.6" r="0.4" fill="#666"/>
<circle cx="50.4" cy="305.8" r="0.4" fill="#666"/>
<circle cx="63.9" cy="308.3" r="0.4" fill="#666"/>
<circle cx="61.6" cy="304.4" r="0.4" fill="#666"/>
<circle cx="57.4" cy="308.7" r="0.4" fill="#666"/>
<circle cx="81.0" cy="306.7" r="0.4" fill="#666"/>
<circle cx="57.2" cy="309.2" r="0.4" fill="#666"/>
<circle cx="62.9" cy="303.9" r="0.4" fill="#666"/>
<polygon points="52.5,311.8 55.5,307.5 58.5,311.8" fill="#222"/>
<polygon points="75,311.8 78,307.5 81,311.8" fill="#222"/>
<line x1="59.3" y1="236.5" x2="59.3" y2="301" stroke="#777" stroke-width="0.9" />
<line x1="74.8" y1="236.5" x2="74.8" y2="301" stroke="#777" stroke-width="0.9" />
<line x1="59.3" y1="176.8" x2="59.3" y2="230" stroke="#777" stroke-width="0.9" />
<line x1="74.8" y1="194.4" x2="74.8" y2="230" stroke="#777" stroke-width="0.9" />
<rect x="49.2" y="230" width="36" height="3.2" rx="0" stroke="#555" stroke-width="0.8" fill="#e4e4e4"/>
<rect x="49.2" y="233.2" width="36" height="3.2" rx="0" stroke="#555" stroke-width="0.8" fill="#e4e4e4"/>
<line x1="54" y1="227.6" x2="54" y2="239.2" stroke="#666" stroke-width="1.5" />
<circle cx="54" cy="228.3" r="1.5" stroke="#444" stroke-width="0.4" fill="#555"/>
<circle cx="54" cy="238.5" r="1.5" stroke="#444" stroke-width="0.4" fill="#555"/>
<line x1="66.9" y1="227.6" x2="66.9" y2="239.2" stroke="#666" stroke-width="1.5" />
<circle cx="66.9" cy="228.3" r="1.5" stroke="#444" stroke-width="0.4" fill="#555"/>
<circle cx="66.9" cy="238.5" r="1.5" stroke="#444" stroke-width="0.4" fill="#555"/>
<line x1="79.7" y1="227.6" x2="79.7" y2="239.2" stroke="#666" stroke-width="1.5" />
<circle cx="79.7" cy="228.3" r="1.5" stroke="#444" stroke-width="0.4" fill="#555"/>
<circle cx="79.7" cy="238.5" r="1.5" stroke="#444" stroke-width="0.4" fill="#555"/>
<rect x="35" y="42.4" width="64" height="3.4" rx="1" stroke="#777" stroke-width="0.9" fill="none"/>
<path d="M45.4 45.8 V130 A85 85 0 0 0 130.4 215 H171.8" stroke="#3a3a3a" stroke-width="0.85" fill="none" />
<path d="M89 45.8 V130 A41.5 41.5 0 0 0 130.5 171.7 H171.8" stroke="#3a3a3a" stroke-width="0.85" fill="none" />
<path d="M89 71.2 H119.5 A7.2 7.2 0 0 0 126.7 64 V50.6" stroke="#111" stroke-width="1.4" fill="none" />
<circle cx="109.2" cy="71.2" r="3.4" stroke="#111" stroke-width="0.5" fill="#111"/>
<line x1="109.2" y1="68" x2="109.2" y2="64.2" stroke="#444" stroke-width="1.0" />
<line x1="105" y1="64.2" x2="113.5" y2="64.2" stroke="#666" stroke-width="1.0" />
<circle cx="125.8" cy="44.2" r="6.3" stroke="#444" stroke-width="1.0" fill="#fff"/>
<line x1="123.3" y1="41.2" x2="128.3" y2="46.8" stroke="#111" stroke-width="1.5" />
<circle cx="122.4" cy="57.5" r="3.1" stroke="#444" stroke-width="1.3" fill="#fff"/>
<rect x="178.6" y="166.9" width="23" height="50" rx="11.5" fill="url(#xh2)" stroke="#444" stroke-width="0.9"/>
<rect x="171.8" y="160.4" width="6.6" height="63.6" rx="0" stroke="#3a3a3a" stroke-width="0.9" fill="#f2f2f2"/>
<line x1="174" y1="160.4" x2="174" y2="224" stroke="#999" stroke-width="0.7" />
<line x1="176.2" y1="160.4" x2="176.2" y2="224" stroke="#999" stroke-width="0.7" />
<rect x="201.7" y="160.4" width="6.6" height="63.6" rx="0" stroke="#3a3a3a" stroke-width="0.9" fill="#f2f2f2"/>
<line x1="203.9" y1="160.4" x2="203.9" y2="224" stroke="#999" stroke-width="0.7" />
<line x1="206.1" y1="160.4" x2="206.1" y2="224" stroke="#999" stroke-width="0.7" />
<line x1="169.8" y1="163.7" x2="210.6" y2="163.7" stroke="#111" stroke-width="1.7" />
<line x1="169.8" y1="220.8" x2="210.6" y2="220.8" stroke="#111" stroke-width="1.7" />
<polygon points="168.70000000000002,163.7 170.3,161.7 171.9,163.7 170.3,165.7" fill="#222"/>
<polygon points="208.6,163.7 210.2,161.7 211.79999999999998,163.7 210.2,165.7" fill="#222"/>
<polygon points="178.3,163.7 179.5,162.0 180.7,163.7 179.5,165.39999999999998" fill="#222"/>
<polygon points="199.3,163.7 200.5,162.0 201.7,163.7 200.5,165.39999999999998" fill="#222"/>
<polygon points="168.70000000000002,220.8 170.3,218.8 171.9,220.8 170.3,222.8" fill="#222"/>
<polygon points="208.6,220.8 210.2,218.8 211.79999999999998,220.8 210.2,222.8" fill="#222"/>
<polygon points="178.3,220.8 179.5,219.10000000000002 180.7,220.8 179.5,222.5" fill="#222"/>
<polygon points="199.3,220.8 200.5,219.10000000000002 201.7,220.8 200.5,222.5" fill="#222"/>
<line x1="208.3" y1="171.7" x2="232.4" y2="171.7" stroke="#3a3a3a" stroke-width="0.85" />
<line x1="208.3" y1="214.2" x2="232.4" y2="202" stroke="#3a3a3a" stroke-width="0.85" />
<rect x="232.4" y="163.5" width="6.3" height="44.8" rx="0" stroke="#3a3a3a" stroke-width="0.9" fill="#f4f4f4"/>
<line x1="234.5" y1="163.5" x2="234.5" y2="208.3" stroke="#999" stroke-width="0.7" />
<line x1="236.6" y1="163.5" x2="236.6" y2="208.3" stroke="#999" stroke-width="0.7" />
<line x1="238.7" y1="172" x2="249.2" y2="172" stroke="#3a3a3a" stroke-width="0.85" />
<line x1="238.7" y1="199" x2="250.3" y2="199" stroke="#3a3a3a" stroke-width="0.85" />
<rect x="243.3" y="24" width="48.2" height="3.7" rx="0.8" stroke="#3a3a3a" stroke-width="0.9" fill="#fff"/>
<line x1="250.2" y1="27.7" x2="250.2" y2="49.6" stroke="#777" stroke-width="0.9" />
<line x1="285.8" y1="27.7" x2="285.8" y2="49.6" stroke="#3a3a3a" stroke-width="0.9" />
<line x1="250.2" y1="77.3" x2="250.2" y2="103" stroke="#777" stroke-width="0.9" />
<line x1="285.8" y1="77.3" x2="285.8" y2="103" stroke="#3a3a3a" stroke-width="0.9" />
<rect x="248.3" y="54.2" width="41" height="18.4" rx="9.2" fill="url(#xh)" stroke="#444" stroke-width="0.9"/>
<rect x="243.6" y="49.6" width="50.2" height="4.4" rx="0" stroke="#3a3a3a" stroke-width="0.9" fill="#ddd"/>
<rect x="243.6" y="72.8" width="50.2" height="4.4" rx="0" stroke="#3a3a3a" stroke-width="0.9" fill="#ddd"/>
<line x1="245.8" y1="47.4" x2="245.8" y2="79.6" stroke="#111" stroke-width="1.9" />
<line x1="291.5" y1="47.4" x2="291.5" y2="79.6" stroke="#111" stroke-width="1.5" />
<polygon points="243.9,47.8 245.8,46.0 247.70000000000002,47.8 245.8,49.599999999999994" fill="#222"/>
<polygon points="243.9,79.2 245.8,77.4 247.70000000000002,79.2 245.8,81.0" fill="#222"/>
<polygon points="244.20000000000002,55.5 245.8,54.2 247.4,55.5 245.8,56.8" fill="#222"/>
<polygon points="244.20000000000002,71.3 245.8,70.0 247.4,71.3 245.8,72.6" fill="#222"/>
<polygon points="289.6,47.8 291.5,46.0 293.4,47.8 291.5,49.599999999999994" fill="#222"/>
<polygon points="289.6,79.2 291.5,77.4 293.4,79.2 291.5,81.0" fill="#222"/>
<polygon points="289.9,55.5 291.5,54.2 293.1,55.5 291.5,56.8" fill="#222"/>
<polygon points="289.9,71.3 291.5,70.0 293.1,71.3 291.5,72.6" fill="#222"/>
<rect x="243.3" y="103" width="48.2" height="2.8" rx="0" stroke="#3a3a3a" stroke-width="0.9" fill="#fff"/>
<rect x="243.3" y="105.8" width="48.2" height="2.8" rx="0" stroke="#3a3a3a" stroke-width="0.9" fill="#fff"/>
<line x1="250" y1="108.6" x2="251.8" y2="131.4" stroke="#3a3a3a" stroke-width="0.85" />
<line x1="286" y1="108.6" x2="283.2" y2="131.4" stroke="#3a3a3a" stroke-width="0.85" />
<rect x="243.3" y="131.4" width="48.2" height="3" rx="0" stroke="#3a3a3a" stroke-width="0.9" fill="#fff"/>
<rect x="243.3" y="134.4" width="48.2" height="3" rx="0" stroke="#3a3a3a" stroke-width="0.9" fill="#fff"/>
<path d="M246.2 137.4 L252 225.5" stroke="#3a3a3a" stroke-width="0.85" fill="none" />
<path d="M288.2 137.4 L284.4 225.5" stroke="#3a3a3a" stroke-width="0.85" fill="none" />
<path d="M252 225.5 Q268 236 284.4 225.5" stroke="#3a3a3a" stroke-width="0.85" fill="none" />
<path d="M252 225.5 L244 238.2" stroke="#3a3a3a" stroke-width="0.85" fill="none" />
<path d="M284.4 225.5 L293 238.2" stroke="#3a3a3a" stroke-width="0.85" fill="none" />
<path d="M244 238.2 L234 252.4" stroke="#3a3a3a" stroke-width="0.85" fill="none" />
<path d="M287.2 159.8 H297.3 V225.8 H284.4" stroke="#3a3a3a" stroke-width="0.85" fill="none" />
<path d="M297.3 159.8 L313.9 170.3 V201.4 L297.3 210.5" stroke="#3a3a3a" stroke-width="0.85" fill="none" />
<rect x="313.9" y="170.3" width="30" height="31.1" rx="0" stroke="#3a3a3a" stroke-width="0.9" fill="none"/>
<line x1="313.9" y1="170.3" x2="313.9" y2="201.4" stroke="#222" stroke-width="1.1" />
<line x1="343.9" y1="181.6" x2="350.7" y2="181.6" stroke="#777" stroke-width="0.8" />
<line x1="343.9" y1="189.6" x2="350.7" y2="189.6" stroke="#777" stroke-width="0.8" />
<rect x="350.5" y="178.6" width="4.1" height="14.8" rx="0" stroke="#3a3a3a" stroke-width="0.9" fill="#fff"/>
<rect x="354.6" y="171.3" width="7.5" height="29.1" rx="0" stroke="#3a3a3a" stroke-width="0.9" fill="#fff"/>
<rect x="362.1" y="171.3" width="7.7" height="29.1" rx="0" stroke="#3a3a3a" stroke-width="0.9" fill="#fff"/>
<rect x="369.8" y="178.6" width="4.1" height="14.8" rx="0" stroke="#3a3a3a" stroke-width="0.9" fill="#fff"/>
<line x1="373.7" y1="182.5" x2="385.3" y2="182.5" stroke="#777" stroke-width="0.8" />
<line x1="373.7" y1="189.2" x2="385.3" y2="189.2" stroke="#777" stroke-width="0.8" />
<path d="M347.7 237.8 V162.5 H376.7 V237.8" stroke="#777" stroke-width="0.8" fill="none" />
<path d="M385.2 229.6 V143 Q385.2 135 393.2 135 H488 Q496 135 496 143 V229.6 Q496 237.4 488 237.4 M393.2 237.4 Q385.2 237.4 385.2 229.6" stroke="#3a3a3a" stroke-width="0.9" fill="none" />
<line x1="398.8" y1="135" x2="398.8" y2="237.4" stroke="#666" stroke-width="0.85" />
<line x1="476.1" y1="135" x2="476.1" y2="237.4" stroke="#777" stroke-width="0.8" />
<line x1="398.8" y1="143.2" x2="476.1" y2="143.2" stroke="#777" stroke-width="0.8" />
<line x1="398.8" y1="151.5" x2="476.1" y2="151.5" stroke="#777" stroke-width="0.8" />
<line x1="398.8" y1="159.2" x2="476.1" y2="159.2" stroke="#333" stroke-width="1.0" />
<line x1="398.8" y1="168" x2="476.1" y2="168" stroke="#777" stroke-width="0.8" />
<line x1="398.8" y1="176.8" x2="476.1" y2="176.8" stroke="#777" stroke-width="0.8" />
<line x1="398.8" y1="185.4" x2="476.1" y2="185.4" stroke="#777" stroke-width="0.8" />
<line x1="398.8" y1="194.4" x2="476.1" y2="194.4" stroke="#777" stroke-width="0.8" />
<line x1="398.8" y1="203.3" x2="476.1" y2="203.3" stroke="#333" stroke-width="1.0" />
<line x1="398.8" y1="212.2" x2="476.1" y2="212.2" stroke="#777" stroke-width="0.8" />
<line x1="398.8" y1="221" x2="476.1" y2="221" stroke="#777" stroke-width="0.8" />
<line x1="398.8" y1="228.8" x2="476.1" y2="228.8" stroke="#777" stroke-width="0.8" />
<path d="M244 237.9 H485.6 L500 253.4" stroke="#4a4a4a" stroke-width="0.85" fill="none" />
<path d="M508.4 252.9 H222.3 Q219.4 252.9 219.4 255.8 V279.2" stroke="#3a3a3a" stroke-width="0.9" fill="none" />
<line x1="228.6" y1="256.3" x2="508.4" y2="256.3" stroke="#777" stroke-width="0.8" />
<line x1="225.8" y1="253" x2="225.8" y2="279" stroke="#777" stroke-width="0.8" />
<line x1="228.6" y1="253" x2="228.6" y2="272" stroke="#777" stroke-width="0.8" />
<line x1="508.6" y1="252.9" x2="508.6" y2="279.4" stroke="#777" stroke-width="0.9" />
<line x1="219.4" y1="279.3" x2="508.4" y2="279.3" stroke="#3a3a3a" stroke-width="0.85" />
<line x1="220" y1="272.7" x2="508.4" y2="272.7" stroke="#111" stroke-width="2.2" />
<line x1="239.5" y1="256" x2="239.5" y2="272.7" stroke="#111" stroke-width="1.8" />
<line x1="264" y1="256" x2="264" y2="272.7" stroke="#111" stroke-width="1.8" />
<line x1="351.5" y1="256" x2="351.5" y2="272.7" stroke="#111" stroke-width="1.8" />
<line x1="375.9" y1="256" x2="375.9" y2="272.7" stroke="#111" stroke-width="1.8" />
<line x1="463.4" y1="256" x2="463.4" y2="272.7" stroke="#111" stroke-width="1.8" />
<line x1="487.6" y1="256" x2="487.6" y2="272.7" stroke="#111" stroke-width="1.8" />
<line x1="234.2" y1="295.3" x2="269.6" y2="295.3" stroke="#111" stroke-width="2.2" />
<polygon points="233.6,296.4 236,292.6 237.6,296.4" fill="#222"/>
<polygon points="265.4,296.4 267.5,292.6 270,296.4" fill="#222"/>
<path d="M237.6 294 V280.79999999999995 Q237.6 276.7 241.79999999999998 276.7 H252.3" stroke="#111" stroke-width="2.0" fill="none" />
<path d="M239.8 294 V281.79999999999995 Q239.8 279.2 242.4 279.2 H250" stroke="#555" stroke-width="0.8" fill="none" />
<line x1="252.3" y1="276.7" x2="252.3" y2="294" stroke="#444" stroke-width="0.9" />
<line x1="242.7" y1="280.6" x2="250.2" y2="280.6" stroke="#000" stroke-width="1.6" />
<line x1="242.7" y1="283.1" x2="250.2" y2="283.1" stroke="#000" stroke-width="1.6" />
<line x1="242.7" y1="285.6" x2="250.2" y2="285.6" stroke="#000" stroke-width="1.6" />
<line x1="242.7" y1="288.1" x2="250.2" y2="288.1" stroke="#000" stroke-width="1.6" />
<line x1="242.7" y1="290.6" x2="250.2" y2="290.6" stroke="#000" stroke-width="1.6" />
<line x1="242.7" y1="293.1" x2="250.2" y2="293.1" stroke="#000" stroke-width="1.6" />
<line x1="242.7" y1="279.8" x2="242.7" y2="294" stroke="#111" stroke-width="0.9" />
<line x1="250.2" y1="279.8" x2="250.2" y2="294" stroke="#111" stroke-width="0.9" />
<path d="M252.3 277.0 H263 Q266 277.0 266 280.0 V294" stroke="#3a3a3a" stroke-width="0.9" fill="none" />
<line x1="252.3" y1="287" x2="266" y2="287" stroke="#777" stroke-width="0.8" />
<line x1="263.4" y1="284.6" x2="263.4" y2="291" stroke="#333" stroke-width="1.3" />
<line x1="238" y1="274.4" x2="261" y2="274.4" stroke="#555" stroke-width="0.9" />
<polygon points="247.20000000000002,271.6 249.20000000000002,268.4 254.4,268.4 256.40000000000003,271.6" fill="#ddd" stroke="#222" stroke-width="0.8"/>
<rect x="250.3" y="266" width="3" height="2.4" fill="#333"/>
<line x1="346.2" y1="295.3" x2="381.6" y2="295.3" stroke="#111" stroke-width="2.2" />
<polygon points="345.6,296.4 348,292.6 349.6,296.4" fill="#222"/>
<polygon points="377.4,296.4 379.5,292.6 382,296.4" fill="#222"/>
<path d="M377.4 294 V280.79999999999995 Q377.4 276.7 373.2 276.7 H362.7" stroke="#111" stroke-width="2.0" fill="none" />
<path d="M375.2 294 V281.79999999999995 Q375.2 279.2 372.6 279.2 H365" stroke="#555" stroke-width="0.8" fill="none" />
<line x1="362.7" y1="276.7" x2="362.7" y2="294" stroke="#444" stroke-width="0.9" />
<line x1="372.3" y1="280.6" x2="364.8" y2="280.6" stroke="#000" stroke-width="1.6" />
<line x1="372.3" y1="283.1" x2="364.8" y2="283.1" stroke="#000" stroke-width="1.6" />
<line x1="372.3" y1="285.6" x2="364.8" y2="285.6" stroke="#000" stroke-width="1.6" />
<line x1="372.3" y1="288.1" x2="364.8" y2="288.1" stroke="#000" stroke-width="1.6" />
<line x1="372.3" y1="290.6" x2="364.8" y2="290.6" stroke="#000" stroke-width="1.6" />
<line x1="372.3" y1="293.1" x2="364.8" y2="293.1" stroke="#000" stroke-width="1.6" />
<line x1="372.3" y1="279.8" x2="372.3" y2="294" stroke="#111" stroke-width="0.9" />
<line x1="364.8" y1="279.8" x2="364.8" y2="294" stroke="#111" stroke-width="0.9" />
<path d="M362.7 277.0 H352 Q349 277.0 349 280.0 V294" stroke="#3a3a3a" stroke-width="0.9" fill="none" />
<line x1="362.7" y1="287" x2="349" y2="287" stroke="#777" stroke-width="0.8" />
<line x1="351.6" y1="284.6" x2="351.6" y2="291" stroke="#333" stroke-width="1.3" />
<line x1="377" y1="274.4" x2="354" y2="274.4" stroke="#555" stroke-width="0.9" />
<polygon points="359.4,271.6 361.4,268.4 366.6,268.4 368.6,271.6" fill="#ddd" stroke="#222" stroke-width="0.8"/>
<rect x="362.5" y="266" width="3" height="2.4" fill="#333"/>
<line x1="458.7" y1="295.3" x2="494.1" y2="295.3" stroke="#111" stroke-width="2.2" />
<polygon points="458.1,296.4 460.5,292.6 462.1,296.4" fill="#222"/>
<polygon points="489.9,296.4 492.0,292.6 494.5,296.4" fill="#222"/>
<path d="M489.9 294 V280.79999999999995 Q489.9 276.7 485.7 276.7 H475.2" stroke="#111" stroke-width="2.0" fill="none" />
<path d="M487.7 294 V281.79999999999995 Q487.7 279.2 485.1 279.2 H477.5" stroke="#555" stroke-width="0.8" fill="none" />
<line x1="475.2" y1="276.7" x2="475.2" y2="294" stroke="#444" stroke-width="0.9" />
<line x1="484.8" y1="280.6" x2="477.3" y2="280.6" stroke="#000" stroke-width="1.6" />
<line x1="484.8" y1="283.1" x2="477.3" y2="283.1" stroke="#000" stroke-width="1.6" />
<line x1="484.8" y1="285.6" x2="477.3" y2="285.6" stroke="#000" stroke-width="1.6" />
<line x1="484.8" y1="288.1" x2="477.3" y2="288.1" stroke="#000" stroke-width="1.6" />
<line x1="484.8" y1="290.6" x2="477.3" y2="290.6" stroke="#000" stroke-width="1.6" />
<line x1="484.8" y1="293.1" x2="477.3" y2="293.1" stroke="#000" stroke-width="1.6" />
<line x1="484.8" y1="279.8" x2="484.8" y2="294" stroke="#111" stroke-width="0.9" />
<line x1="477.3" y1="279.8" x2="477.3" y2="294" stroke="#111" stroke-width="0.9" />
<path d="M475.2 277.0 H464.5 Q461.5 277.0 461.5 280.0 V294" stroke="#3a3a3a" stroke-width="0.9" fill="none" />
<line x1="475.2" y1="287" x2="461.5" y2="287" stroke="#777" stroke-width="0.8" />
<line x1="464.1" y1="284.6" x2="464.1" y2="291" stroke="#333" stroke-width="1.3" />
<line x1="489.5" y1="274.4" x2="466.5" y2="274.4" stroke="#555" stroke-width="0.9" />
<polygon points="470.4,271.6 472.4,268.4 477.6,268.4 479.6,271.6" fill="#ddd" stroke="#222" stroke-width="0.8"/>
<rect x="473.5" y="266" width="3" height="2.4" fill="#333"/>
<path d="M227 256 V282.4 L215.6 294 H182.6 L166.6 310.4 L168.4 312.3 L169 335" stroke="#5e5e5e" stroke-width="0.85" fill="none" />
<path d="M228.7 256 V283 L216.4 295.6 H183.4 L168.6 311 L170.4 312.6 L169.6 335" stroke="#5e5e5e" stroke-width="0.85" fill="none" />
<rect x="294.8" y="245" width="2.6" height="76.3" rx="0" stroke="#777" stroke-width="0.8" fill="#fff"/>
<path d="M445.6 261.8 V332.6 Q445.6 337.2 450.2 337.2 H560 L562.8 335.4 L560 333.6 H452 Q450.2 333.6 450.2 331.8 V261.8 Z" stroke="#777" stroke-width="0.9" fill="#fff" />
<rect x="446.8" y="263" width="2.2" height="2.4" rx="0" stroke="#555" stroke-width="0.6" fill="none"/>
<line x1="157.7" y1="215" x2="157.7" y2="333.5" stroke="#777" stroke-width="0.9" />
<line x1="164.3" y1="215" x2="164.3" y2="333.5" stroke="#777" stroke-width="0.9" />
<path d="M157.7 333.5 A3.3 3.3 0 0 0 164.3 333.5" stroke="#777" stroke-width="0.9" fill="none" />
<circle cx="161" cy="333.3" r="2.5" stroke="#555" stroke-width="0.9" fill="#fff"/>
<rect x="157" y="244" width="8.2" height="10.6" fill="#fff" stroke="none"/>
<line x1="156.7" y1="243.9" x2="165.1" y2="243.9" stroke="#111" stroke-width="1.8" />
<line x1="156.7" y1="254.6" x2="165.1" y2="254.6" stroke="#111" stroke-width="1.8" />
<line x1="164.7" y1="244" x2="164.7" y2="254.6" stroke="#444" stroke-width="0.9" />
<path d="M157.4 247 H160 Q162 247 162 249.3 Q162 251.6 160 251.6 H157.4" stroke="#666" stroke-width="0.9" fill="none" />
<line x1="157.2" y1="247" x2="157.2" y2="252" stroke="#888" stroke-width="1.6" />
<line x1="146.3" y1="244.8" x2="146.3" y2="253.4" stroke="#666" stroke-width="1.3" />
<path d="M146.3 248.2 L148 248.8 Q151.6 248.6 153.6 245.8 Q155.6 249.2 153.6 252.6 Q151.6 249.8 148 249.6 L146.3 250.2 Z" fill="#1a1a1a"/>
<line x1="146.5" y1="249.2" x2="157" y2="249.2" stroke="#333" stroke-width="0.8" />
<path d="M301.5 108.2 H318.3 V124.4" stroke="#8a8a8a" stroke-width="1.3" fill="none" />
<path d="M318.4 369.7 V386.5 H301.3" stroke="#777" stroke-width="1.1" fill="none" />
<text x="309.4" y="104.4" font-family="Liberation Serif, sans-serif" font-size="25" text-anchor="middle" fill="#333" opacity="0.99" textLength="11.4" lengthAdjust="spacingAndGlyphs" stroke="#333" stroke-width="0.25">A</text>
<text x="309.8" y="408.2" font-family="Liberation Serif, sans-serif" font-size="23.6" text-anchor="middle" fill="#333" opacity="0.99" textLength="11.4" lengthAdjust="spacingAndGlyphs" stroke="#333" stroke-width="0.25">A</text>
<text x="206" y="129.6" font-family="Liberation Sans, sans-serif" font-size="10" text-anchor="middle" fill="#333" opacity="0.99" >5</text>
<line x1="199.8" y1="134" x2="214.4" y2="134" stroke="#777" stroke-width="0.8" />
<line x1="199.8" y1="134" x2="175.5" y2="160.2" stroke="#3a3a3a" stroke-width="0.8" />
<text x="27.6" y="225" font-family="Liberation Sans, sans-serif" font-size="10" text-anchor="middle" fill="#333" opacity="0.99" >6</text>
<line x1="20" y1="226.6" x2="34.2" y2="226.6" stroke="#777" stroke-width="0.8" />
<line x1="34.2" y1="226.6" x2="59.8" y2="252" stroke="#3a3a3a" stroke-width="0.8" />
<text x="199.4" y="244.6" font-family="Liberation Serif, sans-serif" font-size="10.5" text-anchor="middle" fill="#333" opacity="0.99" >2</text>
<line x1="191.7" y1="246.4" x2="207" y2="246.4" stroke="#777" stroke-width="0.8" />
<line x1="207" y1="246.4" x2="229.6" y2="272" stroke="#3a3a3a" stroke-width="0.8" />
<text x="181.3" y="279.2" font-family="Liberation Serif, sans-serif" font-size="10.5" text-anchor="middle" fill="#333" opacity="0.99" >12</text>
<line x1="173.6" y1="281" x2="188" y2="281" stroke="#777" stroke-width="0.8" />
<line x1="188" y1="281" x2="200" y2="293.5" stroke="#3a3a3a" stroke-width="0.8" />
<text x="137" y="268.8" font-family="Liberation Serif, sans-serif" font-size="10.5" text-anchor="middle" fill="#333" opacity="0.99" >11</text>
<line x1="131" y1="270.4" x2="143.4" y2="270.4" stroke="#777" stroke-width="0.8" />
<line x1="143.4" y1="270.4" x2="157.7" y2="283.3" stroke="#3a3a3a" stroke-width="0.8" />
<text x="366.9" y="371" font-family="Liberation Serif, sans-serif" font-size="10.5" text-anchor="middle" fill="#333" opacity="0.99" >3</text>
<line x1="356.3" y1="375.2" x2="382.1" y2="375.2" stroke="#777" stroke-width="0.8" />
<line x1="356.3" y1="375.2" x2="296.5" y2="290" stroke="#3a3a3a" stroke-width="0.8" />
<text x="516.7" y="375" font-family="Liberation Serif, sans-serif" font-size="10.5" text-anchor="middle" fill="#333" opacity="0.99" >4</text>
<line x1="507" y1="376.6" x2="526.7" y2="376.6" stroke="#777" stroke-width="0.8" />
<line x1="507" y1="376.6" x2="469.8" y2="333.8" stroke="#3a3a3a" stroke-width="0.8" />
<text x="531.8" y="226.6" font-family="Liberation Serif, sans-serif" font-size="10.5" text-anchor="middle" fill="#333" opacity="0.99" >10</text>
<line x1="524" y1="228.4" x2="539" y2="228.4" stroke="#777" stroke-width="0.8" />
<line x1="524" y1="228.4" x2="502" y2="253.6" stroke="#3a3a3a" stroke-width="0.8" />
<text x="531.8" y="237.6" font-family="Liberation Serif, sans-serif" font-size="10.5" text-anchor="middle" fill="#333" opacity="0.99" >1</text>
<line x1="524" y1="239.3" x2="539" y2="239.3" stroke="#777" stroke-width="0.8" />
<line x1="524" y1="239.3" x2="507.6" y2="253.6" stroke="#3a3a3a" stroke-width="0.8" />
</svg>
</body></html>
